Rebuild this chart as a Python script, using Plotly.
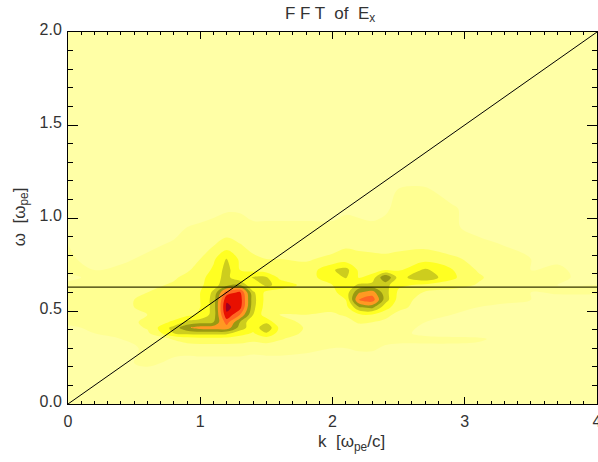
import plotly.graph_objects as go

k_values = [0, .2, .4, .6, .8, .9, 1.0, 1.1, 1.2, 1.3, 1.4, 1.5, 1.6, 1.8, 2.0, 2.1, 2.2, 2.3, 2.4, 2.5, 2.7, 2.9, 3.1, 3.3, 3.5, 3.7, 4.0]
omega_values = [0, .15, .22, .3, .35, .38, .41, .44, .48, .52, .56, .6, .64, .68, .72, .78, .85, .95, 1.05, 1.15, 1.25, 2.0]

row_000 = [.5]*27
row_015 = [.5]*27
row_022 = [.5,.5,.8,1.2,.8,.6,.6,.6,.6,.6,.6,.6,.6,.6,.6,.6,.6,.6,.6,.6,.6,.6,.6,.5,.5,.5,.5]
row_030 = [.5,.6,.8,1.1,1.3,1.4,1.5,1.5,1.5,1.5,1.3,1.4,1.4,1.2,1.0,1.0,1.1,1.1,.9,.9,.9,.9,.8,.6,.5,.5,.5]
row_035 = [.6,.8,1.0,1.3,2.1,2.5,2.6,2.6,2.6,2.5,2.3,2.5,2.1,1.5,1.2,1.2,1.3,1.2,1.2,1.1,1.1,1.1,1.1,.8,.6,.5,.5]
row_038 = [.7,1.0,1.2,1.8,4.0,4.3,4.4,4.4,4.3,3.4,2.9,3.9,2.6,1.8,1.5,1.4,1.5,1.4,1.3,1.1,.9,.8,.7,.7,.6,.5,.5]
row_041 = [.9,1.1,1.4,2.1,4.4,5.8,6.5,6.6,6.6,4.6,3.3,4.8,2.8,1.9,1.6,1.5,1.7,1.6,1.4,1.2,.9,.8,.7,.7,.6,.5,.5]
row_044 = [1.1,1.2,1.6,2.2,3.2,4.3,4.6,5.0,7.4,5.0,3.0,3.8,2.2,1.9,1.7,1.7,2.1,2.0,1.7,1.3,1.0,.9,.8,.7,.6,.5,.5]
row_048 = [1.1,1.4,1.7,2.0,2.4,2.7,3.2,4.4,8.8,7.0,4.0,2.4,2.0,2.0,1.9,2.1,2.8,2.9,2.4,1.6,1.1,1.0,.9,.8,.7,.6,.5]
row_052 = [1.2,1.7,1.9,2.1,2.4,2.6,3.0,4.4,9.3,8.4,4.3,2.5,2.1,2.1,2.2,2.6,4.9,5.3,3.4,2.4,1.3,1.1,1.0,.9,.8,.6,.6]
row_056 = [1.2,1.6,1.9,2.1,2.4,2.6,3.0,4.4,8.8,8.6,4.4,2.6,2.3,2.3,2.6,3.0,7.1,7.6,4.5,2.6,1.5,1.2,1.1,1.1,1.0,.7,.7]
row_060 = [1.1,1.4,1.7,2.0,2.3,2.5,3.0,4.2,7.5,8.2,4.2,2.7,2.5,2.5,2.8,3.4,5.9,6.5,4.4,2.8,1.9,1.5,1.3,1.2,1.0,1.1,1.1]
row_064 = [1.1,1.2,1.5,1.8,2.1,2.4,2.8,3.6,4.6,5.0,3.0,4.3,3.6,2.7,3.0,3.2,4.2,4.3,4.4,3.2,2.8,2.6,1.9,1.2,1.1,1.0,1.0]
row_068 = [.9,1.1,1.3,1.5,1.9,2.2,2.6,3.6,4.3,3.2,4.1,4.1,2.8,2.7,3.4,4.1,2.9,3.4,6.0,3.6,4.8,3.2,2.2,1.3,1.1,1.1,.8]
row_072 = [1.1,1.0,1.1,1.3,1.6,1.9,2.3,3.2,4.4,3.0,2.7,2.5,2.4,2.3,3.9,4.4,2.8,2.6,3.0,2.9,4.2,3.1,1.9,1.3,1.0,1.1,.7]
row_078 = [1.1,.8,.9,1.1,1.4,1.6,2.0,2.8,4.1,2.8,2.2,2.0,2.0,1.9,2.2,2.4,2.3,2.2,2.2,2.4,2.6,2.2,1.7,1.2,1.0,.9,.6]
row_085 = [1.05,.6,.7,.9,1.1,1.3,1.5,2.0,2.5,2.1,1.7,1.6,1.6,1.6,1.7,1.9,1.8,1.8,1.7,1.7,1.8,1.5,1.2,1.0,.7,.6,.5]
row_095 = [.5,.5,.5,.6,.8,1.0,1.1,1.2,1.4,1.3,1.1,1.1,1.1,1.1,1.1,1.2,1.2,1.1,1.2,1.3,1.4,1.1,.8,.6,.5,.5,.5]
row_105 = [.5,.5,.5,.5,.6,.7,.7,.8,.9,.9,.8,.8,.8,.8,.8,.9,.8,.8,.9,1.2,1.3,1.1,.7,.5,.5,.5,.5]
row_115 = [.5,.5,.5,.5,.5,.5,.5,.5,.5,.5,.5,.5,.5,.5,.5,.5,.5,.5,.6,1.05,1.1,.7,.5,.5,.5,.5,.5]
row_125 = [.5]*27
row_200 = [.5]*27

power = [row_000, row_015, row_022, row_030, row_035, row_038, row_041, row_044, row_048, row_052, row_056,
         row_060, row_064, row_068, row_072, row_078, row_085, row_095, row_105, row_115, row_125, row_200]

band_colors = ["#FFFFA6", "#FFFF92", "#FFFF66", "#FFFF22", "#CDCD1E", "#999912", "#FF9922", "#FF6622", "#E81000", "#A00020"]
n = len(band_colors)
scale = []
for i, c in enumerate(band_colors):
    scale += [[i / n, c], [(i + 1) / n, c]]

diag_k = [0, 4]
diag_w = [0, 2]
horiz_k = [0, 4]
horiz_w = [0.628, 0.628]

font_family = "Liberation Sans"
text_color = "#333333"
title_font = dict(family=font_family, size=17, color=text_color)

fig = go.Figure()
fig.add_trace(go.Contour(x=k_values, y=omega_values, z=power, colorscale=scale, zauto=False, zmin=0, zmax=n,
                         contours=dict(start=1, end=9, size=1, coloring="fill", showlines=False),
                         line=dict(width=0), showscale=False, hoverinfo="skip"))
fig.add_trace(go.Scatter(x=diag_k, y=diag_w, mode="lines", line=dict(color="black", width=1), showlegend=False))
fig.add_trace(go.Scatter(x=horiz_k, y=horiz_w, mode="lines", line=dict(color="#333300", width=1.2), showlegend=False))

axis_common = dict(showgrid=False, zeroline=False, ticks="inside", mirror="ticks", showline=True,
                   linecolor="black", linewidth=1, tickcolor="black", tickwidth=1, ticklabeloverflow="allow",
                   tickfont=dict(family=font_family, size=16, color=text_color))
fig.update_xaxes(range=[0, 4], tickvals=[0, 1, 2, 3, 4], ticktext=["0", "1", "2", "3", "4"], ticklen=7,
                 ticklabelstandoff=3,
                 minor=dict(ticks="inside", dtick=0.1, ticklen=3, tickcolor="black", tickwidth=1, showgrid=False),
                 **axis_common)
fig.update_yaxes(range=[0, 2], tickvals=[0, .5, 1, 1.5, 2], ticktext=["0.0", "0.5", "1.0", "1.5", "2.0"], ticklen=10,
                 ticklabelshift=-3, ticklabelstandoff=2,
                 minor=dict(ticks="inside", dtick=0.1, ticklen=5, tickcolor="black", tickwidth=1, showgrid=False),
                 **axis_common)
fig.add_annotation(text="k  [ω<sub>pe</sub>/c]", xref="paper", yref="paper", x=0.535, y=-0.105,
                   xanchor="center", yanchor="middle", showarrow=False, font=title_font)
fig.add_annotation(text="ω  [ω<sub>pe</sub>]", xref="paper", yref="paper", x=-0.09, y=0.503,
                   xanchor="center", yanchor="middle", textangle=-90, showarrow=False, font=title_font)
fig.update_layout(width=598, height=462, margin=dict(l=68, r=1, t=32, b=58, autoexpand=False),
                  paper_bgcolor="white", plot_bgcolor="#FFFFA6", showlegend=False,
                  title=dict(text="F F T  of  E<sub>x</sub>", x=0.552, xanchor="center", y=0.972, yanchor="middle",
                             font=dict(family=font_family, size=17, color=text_color)))
fig.write_html("out.html", config=dict(displayModeBar=False),
               post_script="document.body.style.margin='0';document.documentElement.style.overflow='hidden';document.body.style.overflow='hidden';")
